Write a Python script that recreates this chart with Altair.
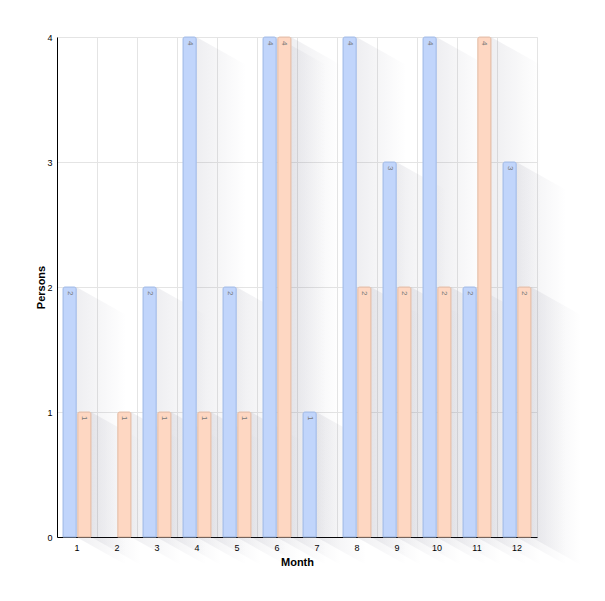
import altair as alt
import pandas as pd

months = [1, 2, 3, 4, 5, 6, 7, 8, 9, 10, 11, 12]
series_a = [2, 0, 2, 4, 2, 4, 1, 4, 3, 4, 2, 3]
series_b = [1, 1, 1, 1, 1, 4, 0, 2, 2, 2, 4, 2]

rows = []
for i, m in enumerate(months):
    rows.append({"month": m, "series": "A", "value": series_a[i], "idx": i, "si": 0})
    rows.append({"month": m, "series": "B", "value": series_b[i], "idx": i, "si": 1})
df = pd.DataFrame(rows)
df = df[df["value"] > 0].reset_index(drop=True)
df["key"] = df["series"] + df["month"].astype(str)

W, H = 480, 500
FONT = "Liberation Sans"
BLUE, ORANGE = "#c1d5fb", "#fed7c2"
BLUE_S, ORANGE_S = "#a7bfe9", "#e6c0ab"

base = alt.Chart(df)

xenc = alt.X("month:O", scale=alt.Scale(paddingInner=0.3, paddingOuter=0.15),
             axis=alt.Axis(title="Month", labelAngle=0, bandPosition=-0.2, ticks=False,
                           labelPadding=6, labelFont=FONT, labelFontSize=9,
                           labelColor="#000", titleFont=FONT, titleFontSize=11,
                           titleFontWeight="bold", titleColor="#000", titlePadding=4,
                           domainColor="#000", domainWidth=1,
                           grid=True, gridColor="#e4e4e4"))
xoff = alt.XOffset("series:N", scale=alt.Scale(paddingInner=0.1))
yenc = alt.Y("value:Q", scale=alt.Scale(domain=[0, 4], nice=False),
             axis=alt.Axis(title="Persons", tickCount=4, format="d", ticks=False,
                           labelFont=FONT, labelFontSize=9,
                           labelColor="#000", labelPadding=5, titleFont=FONT,
                           titleFontSize=11, titleFontWeight="bold", titleColor="#000",
                           titlePadding=0, domainColor="#000", domainWidth=1,
                           gridColor="#e4e4e4"))

L = 50.0
slope = 0.56
shadow = base.transform_calculate(
    t="[0, 1]"
).transform_flatten(["t"]).transform_calculate(
    xr="datum.idx * 40 + (datum.si == 0 ? 19.3 : 34)",
).transform_calculate(
    sx=f"datum.xr + datum.t * {L}",
    sy1=f"{H} - datum.value * {H/4} + datum.t * {L*slope}",
    sy2=f"{H} + datum.t * {L*slope}",
).mark_area(
    color={"gradient": "linear", "x1": 0, "x2": 1, "y1": 0, "y2": 0,
           "stops": [{"offset": 0, "color": "rgba(70,70,100,0.09)"},
                     {"offset": 1, "color": "rgba(70,70,100,0)"}]}
).encode(
    x=alt.X("sx:Q", scale=None, axis=None),
    y=alt.Y("sy1:Q", scale=None, axis=None),
    y2="sy2:Q",
    detail="key:N",
)

cscale = alt.Scale(domain=["A", "B"], range=[BLUE, ORANGE])
sscale = alt.Scale(domain=["A", "B"], range=[BLUE_S, ORANGE_S])

bars = base.mark_bar(cornerRadiusTopLeft=2, cornerRadiusTopRight=2, strokeWidth=1).encode(
    x=xenc, xOffset=xoff, y=yenc,
    color=alt.Color("series:N", scale=cscale, legend=None),
    stroke=alt.Stroke("series:N", scale=sscale, legend=None),
)

labels = base.mark_text(angle=90, align="left", baseline="middle", dx=4,
                        fontSize=8, font=FONT, color="#777").encode(
    x=xenc, xOffset=xoff, y=yenc, text="value:Q"
)

chart = alt.layer(shadow, bars + labels).resolve_scale(
    x="independent", y="independent"
).properties(
    width=W, height=H,
    autosize=alt.AutoSizeParams(type="none"),
    padding={"left": 49, "top": 29, "right": 50, "bottom": 50},
).configure_view(stroke="#e4e4e4")

chart.save("out.html", embed_options={"renderer": "svg", "actions": False})
